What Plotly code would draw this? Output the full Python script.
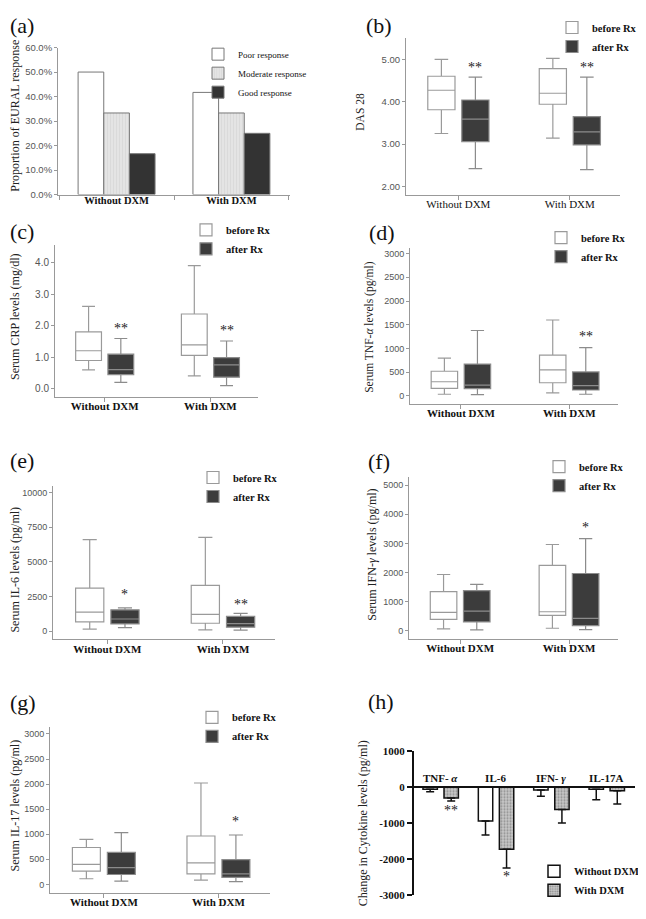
import plotly.graph_objects as go

W, H = 646, 919
PAGE_MARGIN = 8  # browser's default body margin around the plot div

# ---------------- data ----------------
groups = ["Without DXM", "With DXM"]

# (a) EULAR response proportions
response_types = ["Poor response", "Moderate response", "Good response"]
resp_without = [0.50, 0.333, 0.167]
resp_with = [0.417, 0.333, 0.25]

# Five-number summaries [min, Q1, median, Q3, max] for Without DXM / With DXM
das28_before = [[3.25, 3.81, 4.27, 4.60, 5.00], [3.14, 3.94, 4.20, 4.78, 5.02]]
das28_after = [[2.42, 3.06, 3.59, 4.04, 4.58], [2.40, 2.98, 3.29, 3.65, 4.58]]
das28_sig = ["**", "**"]
das28_sig_y = [4.77, 4.77]

crp_before = [[0.59, 0.89, 1.20, 1.80, 2.61], [0.40, 1.05, 1.39, 2.37, 3.91]]
crp_after = [[0.19, 0.44, 0.60, 1.09, 1.59], [0.09, 0.36, 0.75, 0.98, 1.51]]
crp_sig = ["**", "**"]
crp_sig_y = [1.85, 1.77]

tnf_before = [[35, 159, 298, 520, 797], [62, 277, 547, 859, 1600]]
tnf_after = [[28, 152, 229, 672, 1379], [35, 125, 215, 506, 1018]]
tnf_sig = ["", "**"]
tnf_sig_y = [None, 1200]

il6_before = [[142, 664, 1375, 3104, 6588], [95, 569, 1209, 3294, 6754]]
il6_after = [[261, 521, 877, 1540, 1683], [71, 284, 545, 1066, 1280]]
il6_sig = ["*", "**"]
il6_sig_y = [2490, 1780]

ifn_before = [[57, 386, 624, 1338, 1928], [79, 522, 646, 2245, 2960]]
ifn_after = [[23, 295, 669, 1372, 1587], [34, 170, 420, 1962, 3164]]
ifn_sig = ["", "*"]
ifn_sig_y = [None, 3490]

il17_before = [[112, 263, 400, 735, 899], [85, 210, 427, 965, 2022]]
il17_after = [[66, 197, 335, 637, 1031], [53, 138, 210, 492, 985]]
il17_sig = ["", "*"]
il17_sig_y = [None, 1215]

# (h) change in cytokine levels, mean and SEM
cytokines = ["TNF- <i>α</i>", "IL-6", "IFN- <i>γ</i>", "IL-17A"]
change_without = [-64, -945, -91, -64]
change_with = [-309, -1727, -627, -109]
sem_without = [72, 391, 173, 291]
sem_with = [82, 518, 373, 364]
change_sig = ["**", "*", "", ""]
change_sig_y = [-720, -2540, None, None]
h_ticks = [1000, 0, -1000, -2000, -3000]

# ---------------- helpers ----------------
SERIF = "Liberation Serif"
SANS = "Liberation Sans"
FW, FH = W - PAGE_MARGIN, H - PAGE_MARGIN


def fx(p):
    return (p - PAGE_MARGIN) / FW


def fy(p):
    return 1 - (p - PAGE_MARGIN) / FH


BOXGAP = 0.39
BOXGROUPGAP = 0.2
BOX_OFF = (1 - BOXGAP) / 4
STAR_SHIFT = 2

fig = go.Figure()
annotations = []
layout = dict(
    width=FW, height=FH, margin=dict(l=0, r=0, t=0, b=0),
    paper_bgcolor="white", plot_bgcolor="white",
    boxmode="group", boxgap=BOXGAP, boxgroupgap=BOXGROUPGAP,
    barmode="group", bargap=0.33, bargroupgap=0,
    font=dict(family=SERIF, color="#222"),
)


def axkey(kind, i):
    return kind if i == 1 else f"{kind}{i}"


def ref(kind, i):
    return kind if i == 1 else f"{kind}{i}"


def legkey(i):
    return "legend" if i == 1 else f"legend{i}"


def add_label(text, x, y, size=22):
    annotations.append(dict(text=text, x=fx(x), y=fy(y), xref="paper", yref="paper",
                            xanchor="left", yanchor="middle", showarrow=False,
                            font=dict(family=SERIF, size=size, color="#111")))


def add_ytitle(text, x, y, size=12):
    annotations.append(dict(text=text, x=fx(x), y=fy(y), xref="paper", yref="paper",
                            xanchor="center", yanchor="middle", textangle=-90, showarrow=False,
                            font=dict(family=SERIF, size=size, color="#222")))


def add_legend(i, x, y, size=10.5, bold=True):
    layout[legkey(i)] = dict(
        x=fx(x), y=fy(y), xanchor="left", yanchor="top", bgcolor="rgba(0,0,0,0)",
        borderwidth=0, itemwidth=30, tracegroupgap=0,
        font=dict(family=SERIF, size=size, color="#111", weight="bold" if bold else "normal"),
    )


def add_star(text, x, y, i):
    annotations.append(dict(text=text, x=x, y=y, xref=ref("x", i), yref=ref("y", i),
                            showarrow=False, yanchor="middle", yshift=STAR_SHIFT,
                            font=dict(family=SERIF, size=14, color="#222")))


# ---------------- (a) ----------------
i = 1
a_colors = ["white", "#e4e4e4", "#333333"]
a_patterns = ["", "|", ""]
for k, rt in enumerate(response_types):
    fig.add_trace(go.Bar(
        x=groups, y=[resp_without[k], resp_with[k]], name=rt,
        marker=dict(color=a_colors[k], line=dict(color="#777", width=1),
                    pattern=dict(shape=a_patterns[k], fgcolor="#cfcfcf", size=3, solidity=0.3)),
        xaxis=ref("x", i), yaxis=ref("y", i), legend=legkey(i)))
layout[axkey("xaxis", i)] = dict(
    domain=[fx(58), fx(290)], anchor=ref("y", i), range=[-0.51, 1.51],
    showline=True, linecolor="#999", linewidth=1, ticks="outside", ticklen=4, tickcolor="#999",
    tickson="boundaries", ticklabelstandoff=-4,
    tickfont=dict(family=SERIF, size=10.5, color="#111", weight="bold"), showgrid=False)
layout[axkey("yaxis", i)] = dict(
    domain=[fy(191), fy(42)], anchor=ref("x", i), range=[0, 0.6], dtick=0.1, tickformat=".1%",
    showline=True, linecolor="#999", linewidth=1, ticks="outside", ticklen=3, tickcolor="#999",
    tickfont=dict(family=SANS, size=9.5, color="#555"), showgrid=False, zeroline=False)
add_legend(i, 198, 34, size=9, bold=False)
add_label("(a)", 8, 20)
add_ytitle("Proportion of EURAL response", 15, 111, 12)

# ---------------- box panels (b)-(g) ----------------
box_panels = [
    dict(i=2, before=das28_before, after=das28_after, sig=das28_sig, sig_y=das28_sig_y,
         x0=406, x1=620, yt=32, yb=191, yr=[1.81, 5.51], dtick=1, fmt=".2f", ts=9.5,
         lab=(364, 20), leg=(552, 7), title=("DAS 28", 360, 107, 11.5), catbold=False),
    dict(i=3, before=crp_before, after=crp_after, sig=crp_sig, sig_y=crp_sig_y,
         x0=55, x1=258, yt=242, yb=395.7, yr=[-0.26, 4.57], dtick=1, fmt=".1f", ts=10,
         lab=(8, 228), leg=(186, 212), title=("Serum CRP levels (mg/dl)", 15, 315, 12), catbold=True),
    dict(i=4, before=tnf_before, after=tnf_after, sig=tnf_sig, sig_y=tnf_sig_y,
         x0=410, x1=618, yt=245, yb=402.7, yr=[-160, 3120], dtick=500, fmt="d", ts=9,
         lab=(367, 229), leg=(541, 220), title=("Serum TNF-<i>α</i> levels (pg/ml)", 370, 325, 11.5), catbold=True),
    dict(i=5, before=il6_before, after=il6_after, sig=il6_sig, sig_y=il6_sig_y,
         x0=53, x1=275, yt=486.7, yb=641.7, yr=[-590, 10430], dtick=2500, fmt="d", ts=9,
         lab=(8, 460), leg=(193, 463), title=("Serum IL-6 levels (pg/ml)", 15, 571, 12), catbold=True),
    dict(i=6, before=ifn_before, after=ifn_after, sig=ifn_sig, sig_y=ifn_sig_y,
         x0=409, x1=618, yt=477, yb=641, yr=[-280, 5290], dtick=1000, fmt="d", ts=9,
         lab=(366, 461), leg=(539, 452), title=("Serum IFN-<i>γ</i> levels (pg/ml)", 372, 556, 12), catbold=True),
    dict(i=7, before=il17_before, after=il17_after, sig=il17_sig, sig_y=il17_sig_y,
         x0=50, x1=270, yt=731, yb=898.3, yr=[-164, 3130], dtick=500, fmt="d", ts=9,
         lab=(8, 706), leg=(192, 706), title=("Serum IL-17 levels (pg/ml)", 15, 810, 12), catbold=True),
]


def box_trace(name, stats, i, fill, line):
    return go.Box(
        x=groups, lowerfence=[s[0] for s in stats], q1=[s[1] for s in stats],
        median=[s[2] for s in stats], q3=[s[3] for s in stats], upperfence=[s[4] for s in stats],
        name=name, fillcolor=fill, line=dict(color=line, width=1.2), whiskerwidth=0.5,
        alignmentgroup=f"panel{i}", offsetgroup=name,
        xaxis=ref("x", i), yaxis=ref("y", i), legend=legkey(i), showlegend=True)


for p in box_panels:
    i = p["i"]
    fig.add_trace(box_trace("before Rx", p["before"], i, "white", "#9a9a9a"))
    fig.add_trace(box_trace("after Rx", p["after"], i, "#3c3c3c", "#8c8c8c"))
    layout[axkey("xaxis", i)] = dict(
        domain=[fx(p["x0"]), fx(p["x1"])], anchor=ref("y", i), range=[-0.47, 1.45],
        showline=True, linecolor="#999", linewidth=1, ticks="outside", ticklen=4, tickcolor="#999",
        ticklabelstandoff=-5,
        tickfont=dict(family=SERIF, size=11, color="#111", weight="bold" if p["catbold"] else "normal"),
        showgrid=False)
    layout[axkey("yaxis", i)] = dict(
        domain=[fy(p["yb"]), fy(p["yt"])], anchor=ref("x", i), range=p["yr"], dtick=p["dtick"],
        tick0=0, tickformat=p["fmt"], showline=True, linecolor="#999", linewidth=1,
        ticks="outside", ticklen=3, tickcolor="#999",
        tickfont=dict(family=SANS, size=p["ts"], color="#555"), showgrid=False, zeroline=False)
    for k, (s, sy) in enumerate(zip(p["sig"], p["sig_y"])):
        if s:
            add_star(s, k + BOX_OFF, sy, i)
    add_legend(i, *p["leg"])
    add_label(f"({'abcdefgh'[i - 1]})", *p["lab"])
    add_ytitle(*p["title"])

# ---------------- (h) ----------------
i = 8
BAR_W = 0.26
fig.add_trace(go.Bar(
    x=cytokines, y=change_without, name="Without DXM", width=BAR_W, offset=-0.31,
    marker=dict(color="white", line=dict(color="#111", width=1.5)),
    error_y=dict(type="data", symmetric=False, array=[0] * len(sem_without), arrayminus=sem_without,
                 color="#111", thickness=1.5, width=4),
    xaxis=ref("x", i), yaxis=ref("y", i), legend=legkey(i)))
fig.add_trace(go.Bar(
    x=cytokines, y=change_with, name="With DXM", width=BAR_W, offset=0.07,
    marker=dict(color="#b5b5b5", line=dict(color="#111", width=1.5),
                pattern=dict(shape=".", fgcolor="#555", bgcolor="#c8c8c8", size=3, solidity=0.4)),
    error_y=dict(type="data", symmetric=False, array=[0] * len(sem_with), arrayminus=sem_with,
                 color="#111", thickness=1.5, width=4),
    xaxis=ref("x", i), yaxis=ref("y", i), legend=legkey(i)))
h_y0, h_y1 = fy(901), fy(754.5)
h_range = [-3000, 1000]
zero_pos = h_y0 + (0 - h_range[0]) / (h_range[1] - h_range[0]) * (h_y1 - h_y0)
layout[axkey("xaxis", i)] = dict(
    domain=[fx(413), fx(635)], anchor="free", position=zero_pos, side="top",
    range=[-0.49, 3.52], showline=True, linecolor="#111", linewidth=2,
    ticks="outside", ticklen=0, ticklabelstandoff=-1,
    tickfont=dict(family=SERIF, size=11, color="#111", weight="bold"), showgrid=False)
layout[axkey("yaxis", i)] = dict(
    domain=[h_y0, h_y1], anchor="free", position=fx(413), range=h_range, tickvals=h_ticks,
    ticktext=[str(v) for v in h_ticks], showline=True, linecolor="#111", linewidth=2,
    ticks="outside", ticklen=5, tickwidth=2, tickcolor="#111",
    tickfont=dict(family=SERIF, size=11, color="#111", weight="bold"),
    showgrid=False, zeroline=False)
for k, (s, sy) in enumerate(zip(change_sig, change_sig_y)):
    if s:
        add_star(s, k + 0.07 + BAR_W / 2, sy, i)
add_legend(i, 534, 862, size=10.5)
add_label("(h)", 366, 705)
add_ytitle("Change in Cytokine levels (pg/ml)", 363, 828, 12)

layout["annotations"] = annotations
fig.update_layout(**layout)
fig.write_html("out.html")
